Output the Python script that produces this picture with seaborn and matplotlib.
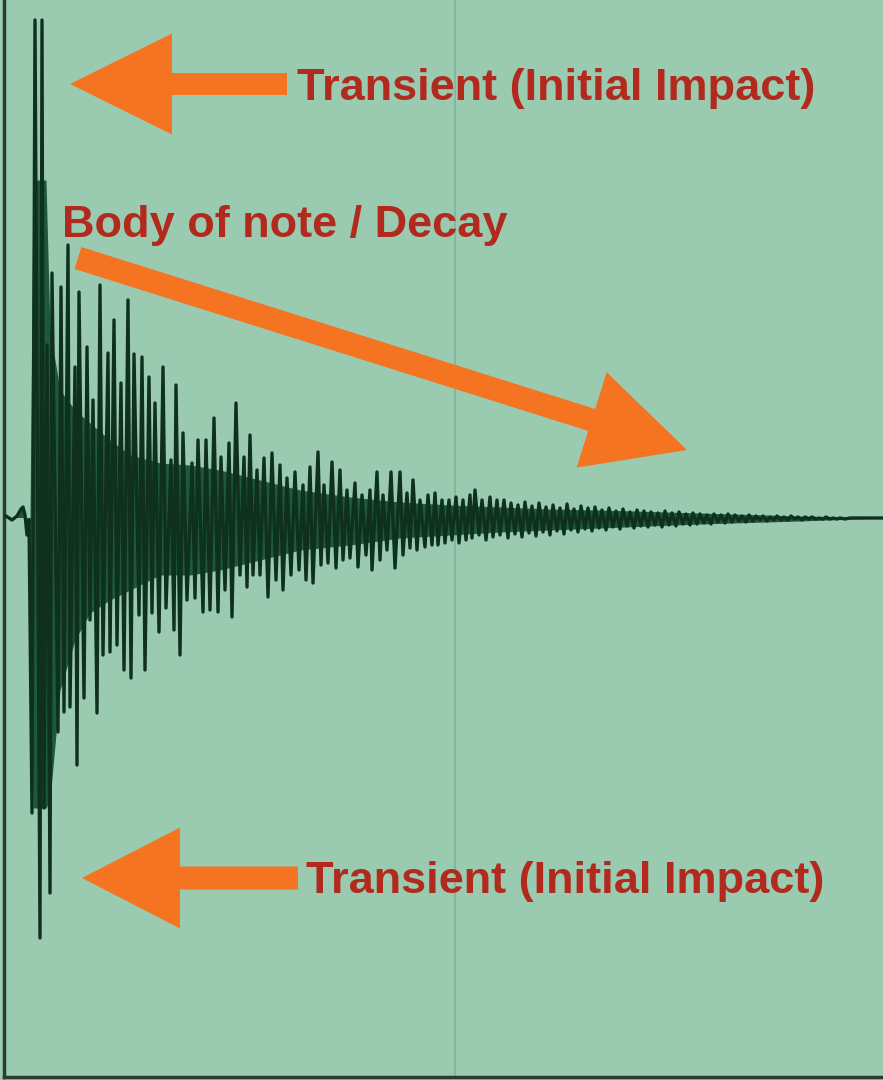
import numpy as np
import pandas as pd
import matplotlib
matplotlib.use("Agg")
import matplotlib.pyplot as plt
from matplotlib.patches import FancyArrow
import seaborn as sns

# ---- data: waveform vertices (time, amplitude) ----
wave_time = [
    0, 6, 12, 17, 21, 23, 25, 27, 29, 32, 35, 40, 42, 44, 47, 50, 52, 58, 61, 64,
    68, 70, 75, 77, 79, 84, 87, 90, 93, 97, 100, 103, 108, 110, 114, 117, 121, 124, 128, 131,
    134, 139, 142, 145, 149, 152, 155, 159, 163, 166, 171, 174, 176, 180, 183, 187, 192, 195, 198, 203,
    206, 210, 214, 218, 221, 225, 229, 232, 236,
    240, 244, 247, 250, 253, 257, 260, 264, 268, 272, 276, 280, 283, 287, 291, 295, 299, 303, 306, 310,
    313, 318, 321, 324, 328, 332, 336, 340, 343, 347, 350, 355, 358, 362, 366, 370, 372, 377, 380, 383,
    387, 391, 395, 400, 403, 407, 410, 413, 417, 420, 425, 428, 432, 435, 438, 442, 445, 449, 452, 456,
    459, 463, 466, 470, 472, 475, 479, 482, 486, 490, 493, 497, 500,
    504, 508, 511, 515, 518, 522, 525, 529, 532, 536, 539, 543, 546, 550, 553, 557, 560, 564, 567, 571,
    574, 578, 581, 585, 588, 592, 595, 599, 602, 606, 609, 613, 616, 620, 623, 627, 630, 634, 637, 641,
    644, 648, 651, 655, 658, 662, 665, 669, 672, 676, 679, 683, 686, 690, 693, 697, 700, 704, 707, 711,
    714, 718, 721, 725, 728, 732, 735, 739, 742, 746, 749, 753, 756, 760, 763, 767, 770, 774, 777, 781,
    784, 788, 791, 795, 798, 802, 805, 809, 812, 816, 819, 823, 826, 830, 833, 837, 840, 845, 850, 860,
    870, 883,
]
wave_amp = [
    0, 2, -2, 2, 9, 11, 3, -17, -2, -295, 498, -420, 498, -290, 173, -375, 245, -214, 231, -194,
    273, -189, 151, -247, 226, -180, 171, -102, 118, -195, 233, -137, 165, -134, 198, -127, 135, -152, 218, -160,
    164, -97, 161, -152, 141, -95, 115, -114, 151, -90, 58, -112, 133, -137, 85, -82, 55, -80, 78, -94,
    78, -92, 100, -94, 61, -72, 75, -99, 115,
    -57, 61, -69, 83, -57, 48, -57, 60, -79, 65, -62, 53, -72, 40, -57, 46, -52, 33, -62, 51,
    -65, 66, -47, 33, -45, 56, -50, 48, -42, 28, -40, 35, -49, 23, -37, 28, -52, 46, -42, 23,
    -32, 46, -50, 46, -37, 25, -30, 38, -32, 18, -29, 23, -27, 25, -27, 18, -25, 18, -22, 21,
    -25, 18, -22, 23, -20, 28, -17, 18, -22, 21, -19, 18, -17,
    18, -20, 15, -16, 13, -19, 16, -15, 12, -18, 15, -14, 11, -17, 13, -13, 10, -16, 14, -12,
    9, -14, 12, -11, 10, -13, 11, -10, 8, -12, 10, -9, 7, -11, 9, -8, 6, -10, 8, -8,
    7, -9, 6, -7, 5, -9, 7, -7, 5, -8, 6, -6, 4, -7, 5, -6, 4, -5, 3, -6,
    4, -4, 3, -5, 4, -4, 3, -3, 2, -4, 3, -3, 2, -2, 2, -3, 1, -2, 2, -2,
    1, -2, 2, -1, 1, -2, 1, -1, 1, -1, 0, -1, 1, -1, 0, -1, 0, -1, 0, 0,
    0, 0,
]

# solid (densely filled) core of the waveform
core_time = [30, 33, 46, 50, 60, 75, 90, 110, 130, 160, 190, 220, 260, 300, 350, 400, 450, 500, 550, 600, 700, 800, 883]
core_upper = [0, 338, 338, 188, 128, 108, 95, 78, 63, 55, 53, 48, 38, 28, 21, 16, 13, 11, 9, 8, 5, 2, 0]
core_lower = [0, -290, -290, -282, -172, -122, -95, -82, -72, -57, -57, -52, -42, -32, -27, -20, -17, -14, -12, -10, -6, -3, 0]

labels = ["Transient (Initial Impact)", "Body of note / Decay", "Transient (Initial Impact)"]

# ---- styling ----
BG = "#9acbb1"
WAVE_LINE = "#0f301f"
WAVE_FILL = "#1d5a3b"
ORANGE = "#f47422"
TEXT_RED = "#b22a1d"

sns.set_theme(style="white")
plt.rcParams["font.family"] = ["Liberation Sans", "DejaVu Sans"]

W, H = 883, 1080
fig = plt.figure(figsize=(W / 100, H / 100), dpi=100)
fig.patch.set_facecolor(BG)
ax = fig.add_axes([4 / W, 3 / H, 879 / W, 1077 / H])
ax.set_facecolor(BG)
ax.set_xlim(4, 883)
ax.set_ylim(-559, 518)

df = pd.DataFrame({"time": wave_time, "amp": wave_amp})
core = pd.DataFrame({"time": core_time, "upper": core_upper, "lower": core_lower})

ax.axvline(455, color="#80b398", lw=1.2, zorder=1)
ax.fill_between(core["time"], core["lower"], core["upper"], color=WAVE_FILL, lw=0, zorder=2)
ax.fill_between(df["time"], df["amp"], 0, color=WAVE_FILL, lw=0, zorder=2)
sns.lineplot(data=df, x="time", y="amp", estimator=None, sort=False,
             color=WAVE_LINE, linewidth=2.4, ax=ax, zorder=3)

# arrows
ax.add_patch(FancyArrow(287, 434, -217, 0, width=22, head_width=101, head_length=102,
                        length_includes_head=True, color=ORANGE, lw=0, zorder=4))
ax.add_patch(FancyArrow(298, -360, -216, 0, width=23, head_width=101, head_length=98,
                        length_includes_head=True, color=ORANGE, lw=0, zorder=4))
ax.add_patch(FancyArrow(78, 260, 609, -192, width=23, head_width=100, head_length=100,
                        length_includes_head=True, color=ORANGE, lw=0, zorder=4))

# labels
tkw = dict(fontsize=32.5, fontweight="bold", color=TEXT_RED, ha="left", va="baseline", zorder=5)
ax.text(297, 418, labels[0], **tkw)
ax.text(62, 281, labels[1], **tkw)
ax.text(306, -375, labels[2], **tkw)

ax.set_xlabel("")
ax.set_ylabel("")
ax.set_xticks([])
ax.set_yticks([])
for s in ["top", "right"]:
    ax.spines[s].set_visible(False)
for s in ["left", "bottom"]:
    ax.spines[s].set_visible(True)
    ax.spines[s].set_color("#2b3a33")
    ax.spines[s].set_linewidth(2.5)

fig.savefig("out.png", dpi=100, facecolor=BG)
